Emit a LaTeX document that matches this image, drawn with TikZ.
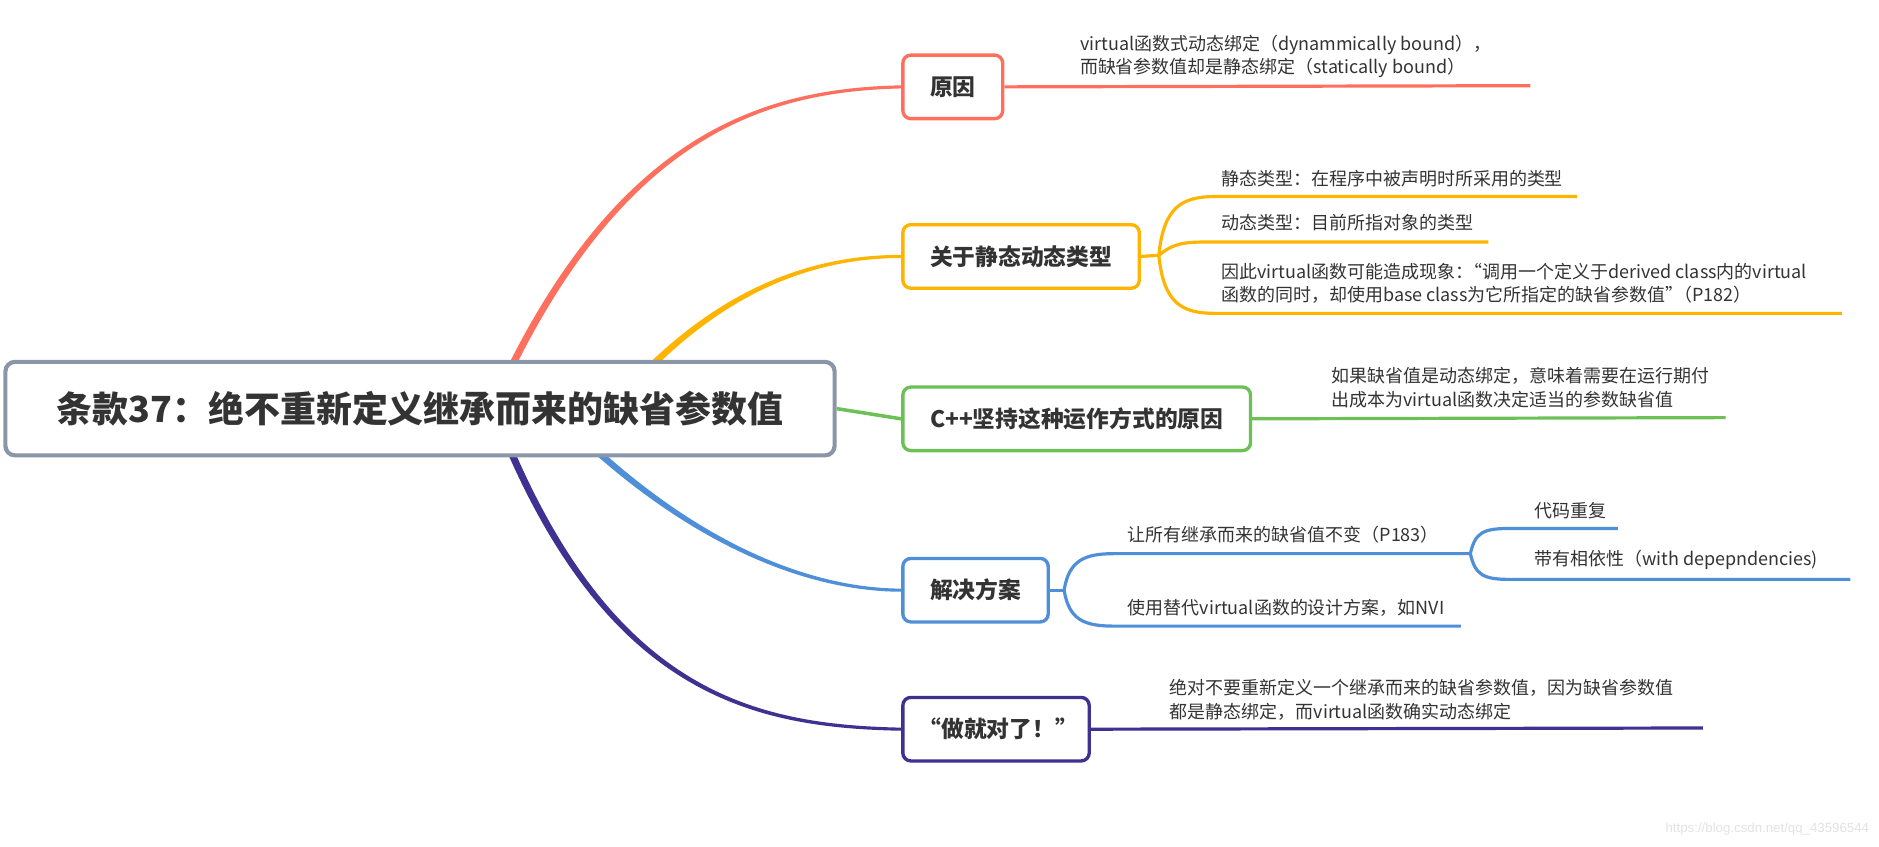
\documentclass[tikz,border=0pt]{standalone}
\usepackage{fontspec}
\setmainfont{Noto Sans CJK SC}
\newfontfamily\markfont{Liberation Sans}
\usetikzlibrary{calc}

\definecolor{mainline}{RGB}{138,150,168}
\definecolor{redline}{RGB}{255,111,94}
\definecolor{orangeline}{RGB}{255,180,0}
\definecolor{greenline}{RGB}{108,192,86}
\definecolor{blueline}{RGB}{78,143,216}
\definecolor{purpleline}{RGB}{62,49,145}
\definecolor{txt}{RGB}{51,51,51}
\definecolor{marktxt}{RGB}{226,226,226}

\begin{document}
\begin{tikzpicture}[x=0.75pt,y=-0.75pt,
      topic/.style = {draw=#1, line width=2.1pt, rounded corners=5pt,
         fill=white, inner xsep=17pt, minimum height=39.75pt, text=txt,
         font=\fontsize{14.25}{17}\selectfont\bfseries},
      leaf/.style = {anchor=west, inner sep=0pt, align=left, text=txt,
         font=\fontsize{11.25}{14.7}\selectfont},
      twig/.style = {draw=#1, line width=2pt}]

   \useasboundingbox (0,0) rectangle (1568,706);

   % branch topics
   \node[topic=redline,    anchor=west] (yuanyin) at (752,72.5)  {原因};
   \node[topic=orangeline, anchor=west] (guanyu)  at (752,214)   {关于静态动态类型};
   \node[topic=greenline,  anchor=west] (jianchi) at (752,349.5) {C++坚持这种运作方式的原因};
   \node[topic=blueline,   anchor=west] (jiejue)  at (752,492.5) {解决方案};
   \node[topic=purpleline, anchor=west] (zuo)     at (752,608.5) {\kern-0.5em“做就对了！”\kern-0.7em};

   % roots of the big curves, hidden under the title box
   \coordinate (rs) at (420,320);  \coordinate (rc1) at (520,110);  \coordinate (rc2) at (640,75);
   \coordinate (os) at (520,330);  \coordinate (oc1) at (600,240);  \coordinate (oc2) at (680,214);
   \coordinate (bs) at (470,350);  \coordinate (bc1) at (560,440);  \coordinate (bc2) at (660,492);
   \coordinate (ps) at (420,362);  \coordinate (pc1) at (510,580);  \coordinate (pc2) at (630,606);

   % tapered curves
   \fill[redline] ($(rs)+(-2.7,-1.3)$) .. controls ($(rc1)+(-2,-1.5)$) and ($(rc2)+(-0.4,-1.4)$) .. ($(yuanyin.west)+(0,-1.3)$)
      -- ($(yuanyin.west)+(0,1.3)$) .. controls ($(rc2)+(0.4,1.4)$) and ($(rc1)+(2,1.5)$) .. ($(rs)+(2.7,1.3)$) -- cycle;
   \fill[orangeline] ($(os)+(-2.2,-2)$) .. controls ($(oc1)+(-1.5,-1.8)$) and ($(oc2)+(-0.3,-1.4)$) .. ($(guanyu.west)+(0,-1.3)$)
      -- ($(guanyu.west)+(0,1.3)$) .. controls ($(oc2)+(0.3,1.4)$) and ($(oc1)+(1.5,1.8)$) .. ($(os)+(2.2,2)$) -- cycle;
   \fill[blueline] ($(bs)+(-2.1,2.1)$) .. controls ($(bc1)+(-1.5,1.8)$) and ($(bc2)+(-0.3,1.4)$) .. ($(jiejue.west)+(0,1.3)$)
      -- ($(jiejue.west)+(0,-1.3)$) .. controls ($(bc2)+(0.3,-1.4)$) and ($(bc1)+(1.5,-1.8)$) .. ($(bs)+(2.1,-2.1)$) -- cycle;
   \fill[purpleline] ($(ps)+(-2.8,1.1)$) .. controls ($(pc1)+(-2,1.5)$) and ($(pc2)+(-0.4,1.4)$) .. ($(zuo.west)+(0,1.3)$)
      -- ($(zuo.west)+(0,-1.3)$) .. controls ($(pc2)+(0.4,-1.4)$) and ($(pc1)+(2,-1.5)$) .. ($(ps)+(2.8,-1.1)$) -- cycle;

   % central topic
   \node[draw=mainline, line width=2.6pt, rounded corners=6pt, fill=white,
      minimum width=519pt, minimum height=58.5pt, text=txt,
      font=\fontsize{22.5}{27}\selectfont\bfseries] (title) at (350.5,341)
      {条款37：绝不重新定义继承而来的缺省参数值};
   \draw[greenline, line width=2.2pt] (title.east) -- (jianchi.west);

   % reason
   \coordinate (r1) at (1277,71.5);
   \draw[twig=redline] (yuanyin.east) -- (r1);
   \node[leaf] (bound) at (901,47.2) {virtual函数式动态绑定（dynammically bound），\\
      而缺省参数值却是静态绑定（statically bound）};

   % static and dynamic types
   \coordinate (ofork) at (967,213);
   \coordinate (o1) at (1316,164);
   \coordinate (o2) at (1242,202);
   \coordinate (o3) at (1537,261.5);
   \draw[twig=orangeline] (guanyu.east) -- (ofork);
   \draw[twig=orangeline] (ofork) .. controls +(4,-40) and +(-28,0) .. (1014,164) -- (o1);
   \draw[twig=orangeline] (ofork) .. controls +(10,-8) and +(-20,0) .. (1004,202) -- (o2);
   \draw[twig=orangeline] (ofork) .. controls +(4,40) and +(-28,0) .. (1014,261.5) -- (o3);
   \node[leaf] (statictype)  at (1019,149) {静态类型：在程序中被声明时所采用的类型};
   \node[leaf] (dynamictype) at (1019,186) {动态类型：目前所指对象的类型};
   \node[leaf] (effect) at (1019,236.6) {因此virtual函数可能造成现象：\kern-0.5em“调用一个定义于derived class内的virtual\\
      函数的同时，却使用base class为它所指定的缺省参数值”\kern-0.5em（P182）};

   % why C++ does it
   \coordinate (g1) at (1440,348.5);
   \draw[twig=greenline] (jianchi.east) -- (g1);
   \node[leaf] (runtime) at (1111,323.5) {如果缺省值是动态绑定，意味着需要在运行期付\\
      出成本为virtual函数决定适当的参数缺省值};

   % solutions
   \coordinate (bfork) at (888,492.5);
   \coordinate (b2fork) at (1227,462);
   \coordinate (b2) at (1219,522.5);
   \coordinate (b11) at (1350,441);
   \coordinate (b12) at (1544,483.5);
   \draw[twig=blueline] (jiejue.east) -- (bfork);
   \draw[twig=blueline] (bfork) .. controls +(4,-25) and +(-25,0) .. (930,462) -- (b2fork);
   \draw[twig=blueline] (bfork) .. controls +(4,25) and +(-25,0) .. (930,522.5) -- (b2);
   \draw[twig=blueline] (b2fork) .. controls +(4,-18) and +(-22,0) .. (1260,441) -- (b11);
   \draw[twig=blueline] (b2fork) .. controls +(4,18) and +(-22,0) .. (1260,483.5) -- (b12);
   \node[leaf] (keep)  at (941,446.5) {让所有继承而来的缺省值不变（P183）};
   \node[leaf] (nvi)   at (941,507)   {使用替代virtual函数的设计方案，如NVI};
   \node[leaf] (dup)   at (1280,426)  {代码重复};
   \node[leaf] (deps)  at (1280,467.5) {带有相依性（with depepndencies)};

   % just do it
   \coordinate (p1) at (1421,607.5);
   \draw[twig=purpleline] (zuo.east) -- (p1);
   \node[leaf] (never) at (976,584) {绝对不要重新定义一个继承而来的缺省参数值，因为缺省参数值\\
      都是静态绑定，而virtual函数确实动态绑定};

   % watermark
   \node[anchor=east, inner sep=0pt, text=marktxt,
      font=\markfont\fontsize{8.3}{10}\selectfont] (mark) at (1560,692)
      {https://blog.csdn.net/qq\_43596544};
\end{tikzpicture}
\end{document}
